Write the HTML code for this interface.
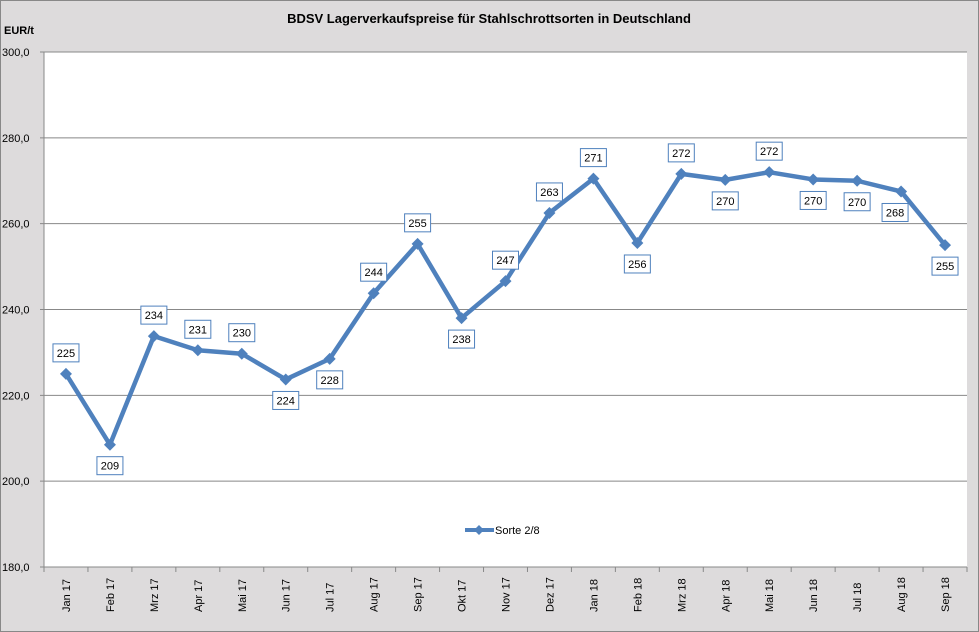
<!DOCTYPE html><html><head><meta charset="utf-8"><style>body{margin:0;background:#dddbdc}svg{display:block;font-family:"Liberation Sans",Arial,sans-serif}</style></head><body>
<svg id="s" width="979" height="632" xmlns="http://www.w3.org/2000/svg">
<rect x="0" y="0" width="979" height="632" fill="#dddbdc"/>
<rect x="0.5" y="0.5" width="978" height="631" fill="none" stroke="#888"/>
<rect x="44" y="52" width="923" height="515" fill="#fff"/>
<text x="489" y="23" font-size="13" font-weight="bold" text-anchor="middle">BDSV Lagerverkaufspreise für Stahlschrottsorten in Deutschland</text>
<text x="4" y="34" font-size="11" font-weight="bold">EUR/t</text>
<g id="g"></g>
</svg>
<script>
(function(){
const g=document.getElementById('g');let h='';
const T=52,B=567,L=44,W=923/21;
for(let i=0;i<=6;i++){const y=T+i*(B-T)/6;const v=300-i*20;
h+=`<line x1="40" x2="967" y1="${y}" y2="${y}" stroke="#888" stroke-width="1"/>`;
h+=`<text x="2" y="${y+4}" font-size="11">${v},0</text>`;}
h+=`<line x1="44" x2="44" y1="52" y2="567" stroke="#888"/>`;
const m=["Jan 17","Feb 17","Mrz 17","Apr 17","Mai 17","Jun 17","Jul 17","Aug 17","Sep 17","Okt 17","Nov 17","Dez 17","Jan 18","Feb 18","Mrz 18","Apr 18","Mai 18","Jun 18","Jul 18","Aug 18","Sep 18"];
for(let i=0;i<=21;i++){const x=L+i*W;h+=`<line x1="${x}" x2="${x}" y1="567" y2="572" stroke="#888"/>`;}
m.forEach((t,i)=>{const x=L+(i+.5)*W+4;h+=`<text transform="translate(${x},612) rotate(-90)" font-size="11">${t}</text>`;});
const v=[225,208.5,233.8,230.5,229.7,223.7,228.5,243.8,255.3,238,246.6,262.5,270.5,255.5,271.6,270.2,272,270.3,270,267.5,255];
const lab=[225,209,234,231,230,224,228,244,255,238,247,263,271,256,272,270,272,270,270,268,255];
const up=[1,0,1,1,1,0,0,1,1,0,1,1,1,0,1,0,1,0,0,0,0];
const Y=a=>T+(300-a)*(B-T)/120;
const pts=v.map((a,i)=>[L+(i+.5)*W,Y(a)]);
h+=`<polyline points="${pts.map(p=>p.join(',')).join(' ')}" fill="none" stroke="#4f81bd" stroke-width="4.5" stroke-linejoin="round"/>`;
pts.forEach(([x,y],i)=>{h+=`<polygon points="${x},${y-6} ${x+6},${y} ${x},${y+6} ${x-6},${y}" fill="#4f81bd"/>`;
const ly=up[i]?y-21:y+21;const lx=x-(i==19?6:0);
h+=`<rect x="${lx-13}" y="${ly-9}" width="26" height="18" fill="#fff" stroke="#4f81bd"/><text x="${lx}" y="${ly+4}" font-size="11" text-anchor="middle">${lab[i]}</text>`;});
h+=`<line x1="465" x2="494" y1="530" y2="530" stroke="#4f81bd" stroke-width="4"/><polygon points="479,525 484,530 479,535 474,530" fill="#4f81bd"/><text x="495" y="534" font-size="11">Sorte 2/8</text>`;
g.innerHTML=h;
})();
</script></body></html>
